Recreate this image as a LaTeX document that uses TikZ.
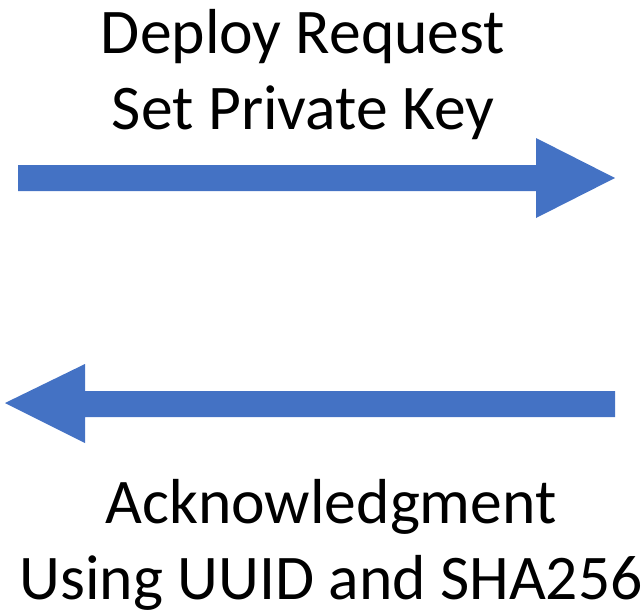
\documentclass[tikz,border=0pt]{standalone}
\usepackage{fontspec}
\setmainfont{Carlito}
\definecolor{officeblue}{HTML}{4472C4}
\begin{document}
\begin{tikzpicture}[x=0.75pt,y=-0.75pt,
  arrowshape/.style={fill=officeblue,draw=none},
  label/.style={align=center,font=\fontsize{47.7pt}{57pt}\selectfont,inner sep=0pt}]
\useasboundingbox (0,0) rectangle (644,611);
% top arrow (pointing right)
\coordinate (t0) at (18,178);
\coordinate (t1) at (615,178);
\fill[arrowshape] (18,165) -- (536,165) -- (536,138) -- (t1) -- (536,218) -- (536,191) -- (18,191) -- cycle;
% bottom arrow (pointing left)
\coordinate (b1) at (5,403);
\fill[arrowshape] (615,391) -- (85,391) -- (85,364) -- (b1) -- (85,443) -- (85,417) -- (615,417) -- cycle;
\node[label] (top) at (303,75) {Deploy Request\\Set Private Key};
\node[label] (bot) at (331,545) {Acknowledgment\\Using UUID and SHA256};
\end{tikzpicture}
\end{document}
